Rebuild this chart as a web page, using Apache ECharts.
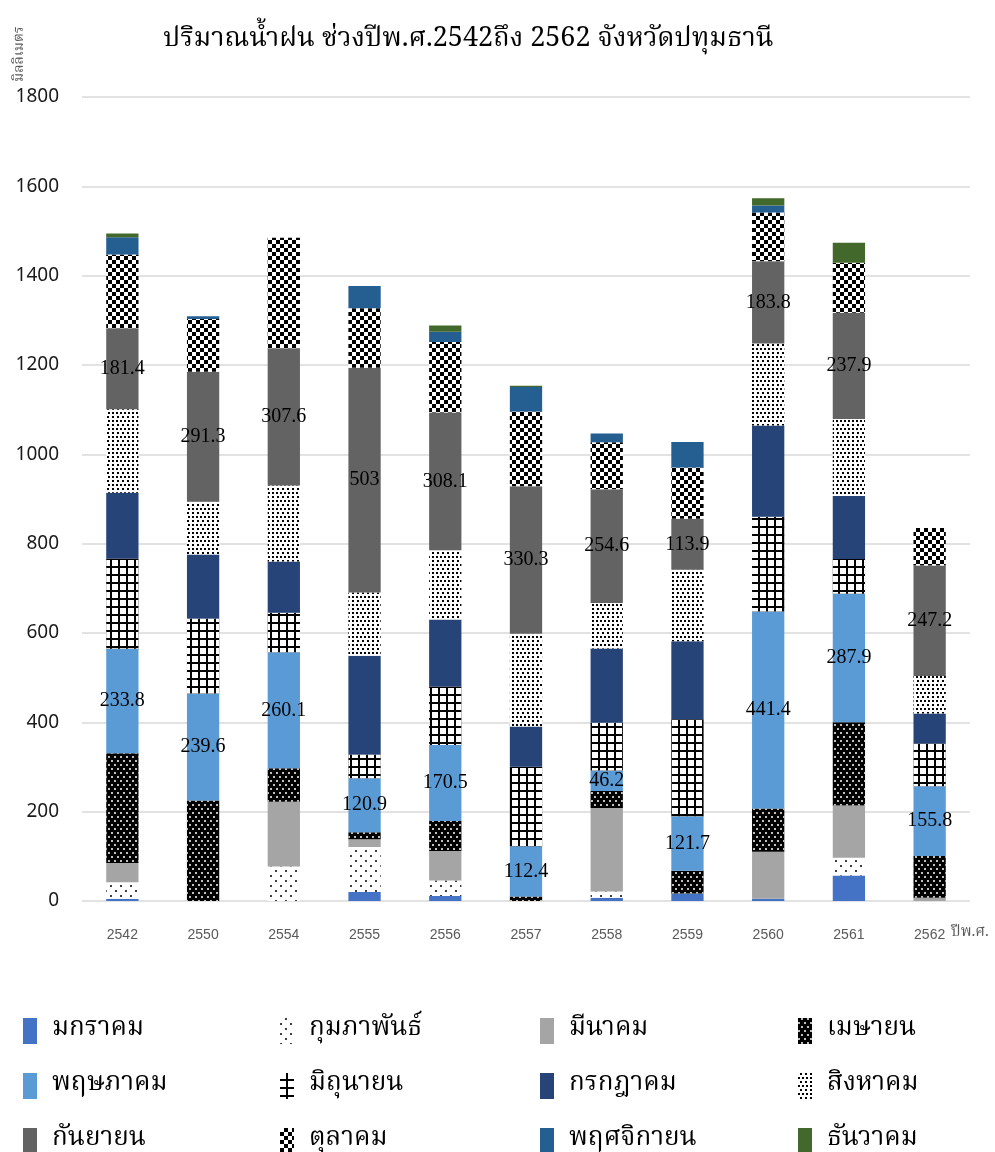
<!DOCTYPE html>
<html>
<head>
<meta charset="utf-8">
<script src="https://cdn.jsdelivr.net/npm/echarts@6/dist/echarts.min.js"></script>
<style>
  html, body { margin: 0; padding: 0; background: #fff; }
  #chart { width: 995px; height: 1152px; }
</style>
</head>
<body>
<div id="chart"></div>
<script>
// ปีพ.ศ.
const years = ['2542', '2550', '2554', '2555', '2556', '2557', '2558', '2559', '2560', '2561', '2562'];
const yTicks = [0, 200, 400, 600, 800, 1000, 1200, 1400, 1600, 1800];

// ปริมาณน้ำฝนรายเดือน (มิลลิเมตร)
const jan = [5, 0, 0, 20, 11, 0, 7, 17, 5, 57, 0];
const feb = [37, 0, 77, 101, 35, 0, 14, 0, 0, 40, 0];
const mar = [43, 0, 145, 17, 66, 0, 187, 0, 105, 117, 7];
const apr = [246, 225, 75, 16, 67, 10, 38, 51, 97, 186, 94];
const may = [233.8, 239.6, 260.1, 120.9, 170.5, 112.4, 46.2, 121.7, 441.4, 287.9, 155.8];
const jun = [202, 168, 88, 53, 131, 178, 107, 217, 212, 78, 96];
const jul = [147, 143, 115, 221, 150, 90, 166, 175, 204, 141, 67];
const aug = [187, 118, 170, 142, 155, 208, 102, 160, 184, 172, 84];
const sep = [181.4, 291.3, 307.6, 503, 308.1, 330.3, 254.6, 113.9, 183.8, 237.9, 247.2];
const oct = [165, 118, 247, 133, 158, 167, 105, 115, 109, 112, 84];
const nov = [39, 6, 0, 50, 23, 55, 20, 57, 16, 0, 0];
const dec = [8, 0, 0, 0, 14, 3, 0, 0, 16, 45, 0];

const monthNames = ['มกราคม', 'กุมภาพันธ์', 'มีนาคม', 'เมษายน', 'พฤษภาคม', 'มิถุนายน',
  'กรกฎาคม', 'สิงหาคม', 'กันยายน', 'ตุลาคม', 'พฤศจิกายน', 'ธันวาคม'];
const monthData = [jan, feb, mar, apr, may, jun, jul, aug, sep, oct, nov, dec];

const thaiFont = '"Noto Serif Thai", "Noto Sans Thai", "Garuda", "Loma", serif';

// ลวดลายของแต่ละเดือน (ไม่มี = สีทึบ)
const decals = {
  'กุมภาพันธ์': { symbol: 'circle', symbolSize: 1, color: '#000', dashArrayX: [[2, 8], [0, 5, 2, 3]], dashArrayY: [2, 3] },
  'เมษายน': { symbol: 'circle', symbolSize: 1, color: '#fff', dashArrayX: [[2, 4], [0, 3, 2, 1]], dashArrayY: [2, 2] },
  'มิถุนายน': { symbol: 'rect', symbolSize: 1, color: '#fff', dashArrayX: [6, 2], dashArrayY: [6, 2] },
  'สิงหาคม': { symbol: 'rect', symbolSize: 1, color: '#000', dashArrayX: [[1.4, 2], [0, 1.7, 1.4, 0.3]], dashArrayY: [1.4, 1.2] },
  'ตุลาคม': { symbol: 'rect', symbolSize: 1, color: '#000', dashArrayX: [[3.3, 3.3], [0, 3.3, 3.3, 0]], dashArrayY: [3.3, 0] }
};
const colors = ['#4472c4', '#ffffff', '#a5a5a5', '#000000', '#5b9bd5', '#000000',
  '#264478', '#ffffff', '#636363', '#ffffff', '#255e91', '#43682b'];

const labelled = ['พฤษภาคม', 'กันยายน'];

const series = monthNames.map((name, i) => ({
  name: name,
  type: 'bar',
  stack: 'rain',
  barWidth: '40%',
  data: monthData[i],
  itemStyle: {
    color: colors[i],
    decal: decals[name] || null
  },
  label: {
    show: labelled.indexOf(name) >= 0,
    position: 'inside',
    color: '#000',
    fontFamily: '"Liberation Serif", "Times New Roman", serif',
    fontSize: 20
  }
}));

// ตำนาน 4 คอลัมน์ x 3 แถว (หนึ่ง legend ต่อหนึ่งเดือน)
const legendCols = [18, 275, 535, 793];
const legendRows = [1013, 1068, 1123];
const legends = monthNames.map((name, i) => ({
  left: legendCols[i % 4],
  top: legendRows[Math.floor(i / 4)],
  itemWidth: 14,
  itemHeight: 26,
  icon: 'rect',
  data: [name],
  textStyle: {
    fontFamily: thaiFont,
    fontSize: 26,
    color: '#000',
    padding: [0, 0, 0, 10]
  }
}));

const chart = echarts.init(document.getElementById('chart'));
chart.setOption({
  backgroundColor: '#fff',
  animation: false,
  title: {
    text: 'ปริมาณน้ำฝน ช่วงปีพ.ศ.2542ถึง 2562 จังหวัดปทุมธานี',
    left: 158,
    top: 23,
    textStyle: { fontFamily: thaiFont, fontSize: 27, fontWeight: 'normal', color: '#000' }
  },
  legend: legends,
  grid: { left: 82, right: 25, top: 97, bottom: 251 },
  xAxis: {
    type: 'category',
    data: years,
    name: 'ปีพ.ศ.',
    nameLocation: 'end',
    nameGap: -25,
    nameTextStyle: {
      fontFamily: thaiFont, fontSize: 15, color: '#595959',
      align: 'left', verticalAlign: 'top', padding: [25, 0, 0, 0]
    },
    axisLine: { show: false },
    axisTick: { show: false },
    axisLabel: { color: '#595959', fontSize: 14, margin: 27, fontFamily: '"Liberation Sans", Arial, sans-serif' }
  },
  yAxis: {
    type: 'value',
    min: yTicks[0],
    max: yTicks[yTicks.length - 1],
    interval: 200,
    axisLine: { show: false },
    axisTick: { show: false },
    axisLabel: {
      color: '#1a1a1a', fontSize: 19, margin: 23,
      fontFamily: '"Noto Sans", "Open Sans", sans-serif',
      formatter: (v) => String(v)
    },
    splitLine: { lineStyle: { color: '#d9d9d9', width: 1.5 } }
  },
  graphic: [{
    type: 'text',
    x: 14,
    y: 82,
    rotation: Math.PI / 2,
    style: { text: 'มิลลิเมตร', fontFamily: thaiFont, fontSize: 14, fill: '#595959' }
  }],
  series: series
});
</script>
</body>
</html>
